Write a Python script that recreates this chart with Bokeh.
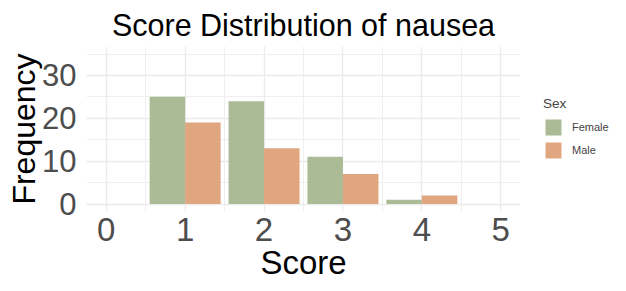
from bokeh.plotting import figure
from bokeh.layouts import row
from bokeh.models import ColumnDataSource, FixedTicker, Range1d, Legend, LegendItem
from bokeh.transform import dodge
from bokeh.embed import file_html
from bokeh.resources import INLINE

scores = [1, 2, 3, 4]
female = [25, 24, 11, 1]
male = [19, 13, 7, 2]
x_ticks = [0, 1, 2, 3, 4, 5]
y_ticks = [0, 10, 20, 30]
sexes = ["Female", "Male"]
colors = ["#ABBB95", "#E0A680"]

FONT = "Liberation Sans"
src = ColumnDataSource(dict(score=scores, female=female, male=male))

p = figure(width=520, height=291, output_backend="svg", toolbar_location=None,
           x_range=Range1d(-0.25, 5.25), y_range=Range1d(-1.75, 36.75),
           min_border_left=86, min_border_right=0, min_border_top=44, min_border_bottom=80)
p.outline_line_color = None
p.background_fill_color = "white"

p.title.text = "Score Distribution of nausea"
p.title.text_font = FONT
p.title.text_font_size = "30.5px"
p.title.text_font_style = "normal"
p.title.align = "center"
p.title.text_color = "black"
p.title.offset = 0

r1 = p.vbar(x=dodge("score", -0.225), top="female", width=0.45, bottom=0, source=src,
            fill_color=colors[0], line_color=None)
r2 = p.vbar(x=dodge("score", 0.225), top="male", width=0.45, bottom=0, source=src,
            fill_color=colors[1], line_color=None)

p.xaxis.ticker = FixedTicker(ticks=x_ticks, minor_ticks=[0.5, 1.5, 2.5, 3.5, 4.5])
p.yaxis.ticker = FixedTicker(ticks=y_ticks, minor_ticks=[5, 15, 25, 35])
for ax in (p.xaxis[0], p.yaxis[0]):
    ax.axis_line_color = None
    ax.major_tick_line_color = None
    ax.minor_tick_line_color = None
    ax.major_tick_out = 0
    ax.major_tick_in = 0
    ax.minor_tick_out = 0
    ax.minor_tick_in = 0
    ax.major_label_text_font = FONT
    ax.major_label_text_color = "#4D4D4D"
    ax.axis_label_text_font = FONT
    ax.axis_label_text_font_style = "normal"
    ax.axis_label_text_color = "black"
p.xaxis.axis_label_text_font_size = "33px"
p.yaxis.axis_label_text_font_size = "32px"
p.xaxis.major_label_text_font_size = "33px"
p.yaxis.major_label_text_font_size = "31px"
p.xaxis.axis_label = "Score"
p.yaxis.axis_label = "Frequency"
p.xaxis.major_label_standoff = 6
p.yaxis.major_label_standoff = 10
p.xaxis.axis_label_standoff = 0
p.yaxis.axis_label_standoff = -3

for g in (p.xgrid[0], p.ygrid[0]):
    g.grid_line_color = "#EBEBEB"
    g.grid_line_width = 1.3
    g.minor_grid_line_color = "#EFEFEF"
    g.minor_grid_line_width = 1

# legend panel
lg = figure(width=106, height=291, output_backend="svg", toolbar_location=None,
            x_range=Range1d(0, 1), y_range=Range1d(0, 1),
            min_border=0)
lg.axis.visible = False
lg.grid.visible = False
lg.outline_line_color = None
items = []
for name, c in zip(sexes, colors):
    rr = lg.vbar(x=[0.5], top=[0.5], bottom=[0.5], width=0.0, fill_color=c, line_color=None)
    items.append(LegendItem(label=name, renderers=[rr]))
legend = Legend(items=items, title="Sex", location=(23, 51),
                border_line_color=None, background_fill_alpha=0,
                glyph_width=20, glyph_height=20, spacing=3,
                label_text_font=FONT, label_text_font_size="11px",
                title_text_font=FONT, title_text_font_size="13.5px",
                title_text_font_style="normal", label_standoff=9,
                title_standoff=6, padding=0, margin=0)
lg.add_layout(legend)

layout = row(p, lg)
open("out.html", "w").write(file_html(layout, INLINE))
